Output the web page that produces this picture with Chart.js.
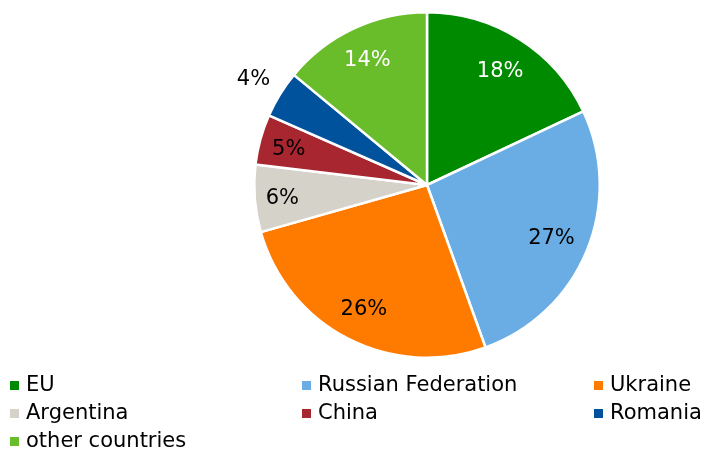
<!DOCTYPE html>
<html>
<head>
<meta charset="utf-8">
<script src="https://cdn.jsdelivr.net/npm/chart.js@4/dist/chart.umd.min.js"></script>
<style>
  html,body{margin:0;padding:0;background:#fff;}
  #wrap{position:relative;width:704px;height:450px;overflow:hidden;}
  #c{position:absolute;left:0;top:0;}
  #legend{position:absolute;left:0;top:0;width:704px;height:450px;font-family:"DejaVu Sans",Verdana,sans-serif;font-size:21px;color:#000;}
  .li{position:absolute;white-space:nowrap;line-height:24px;}
  .bx{display:inline-block;width:9px;height:9px;margin-right:7px;vertical-align:1px;}
</style>
</head>
<body>
<div id="wrap">
  <canvas id="c" width="704" height="450"></canvas>
  <div id="legend"></div>
</div>
<script>
const categories = ["EU", "Russian Federation", "Ukraine", "Argentina", "China", "Romania", "other countries"];
const shares = [18.0, 26.5, 26.1, 6.3, 4.7, 4.4, 14.0];
const percentLabels = ["18%", "27%", "26%", "6%", "5%", "4%", "14%"];
const colors = ["#008a00", "#6aade4", "#ff7b00", "#d5d2ca", "#a8262f", "#00529c", "#6abd2a"];
const labelColors = ["#ffffff", "#000000", "#000000", "#000000", "#000000", "#000000", "#ffffff"];
const labelRadius = [0.79, 0.78, 0.80, 0.84, 0.83, 1.18, 0.81];

const sliceLabels = {
  id: 'sliceLabels',
  afterDatasetsDraw(chart) {
    const ctx = chart.ctx;
    const meta = chart.getDatasetMeta(0);
    ctx.save();
    ctx.font = '21px "DejaVu Sans", Verdana, sans-serif';
    ctx.textAlign = 'center';
    ctx.textBaseline = 'middle';
    meta.data.forEach((arc, i) => {
      const p = arc.getProps(['x','y','startAngle','endAngle','outerRadius'], true);
      const a = (p.startAngle + p.endAngle) / 2;
      const r = p.outerRadius * labelRadius[i];
      ctx.fillStyle = labelColors[i];
      ctx.fillText(percentLabels[i], p.x + Math.cos(a) * r, p.y + Math.sin(a) * r + 2);
    });
    ctx.restore();
  }
};

new Chart(document.getElementById('c'), {
  type: 'pie',
  data: {
    labels: categories,
    datasets: [{
      data: shares,
      backgroundColor: colors,
      borderColor: '#ffffff',
      borderWidth: 2.5,
      hoverOffset: 0
    }]
  },
  options: {
    responsive: false,
    animation: false,
    layout: { padding: { left: 253, right: 103, top: 11, bottom: 91 } },
    plugins: { legend: { display: false }, tooltip: { enabled: false } }
  },
  plugins: [sliceLabels]
});

// Legend laid out in three columns
const legendCols = [10, 302, 594];
const legendRows = [372, 400, 428];
const lg = document.getElementById('legend');
categories.forEach((name, i) => {
  const d = document.createElement('div');
  d.className = 'li';
  d.style.left = legendCols[i % 3] + 'px';
  d.style.top = legendRows[Math.floor(i / 3)] + 'px';
  const b = document.createElement('span');
  b.className = 'bx';
  b.style.background = colors[i];
  d.appendChild(b);
  d.appendChild(document.createTextNode(name));
  lg.appendChild(d);
});
</script>
</body>
</html>
